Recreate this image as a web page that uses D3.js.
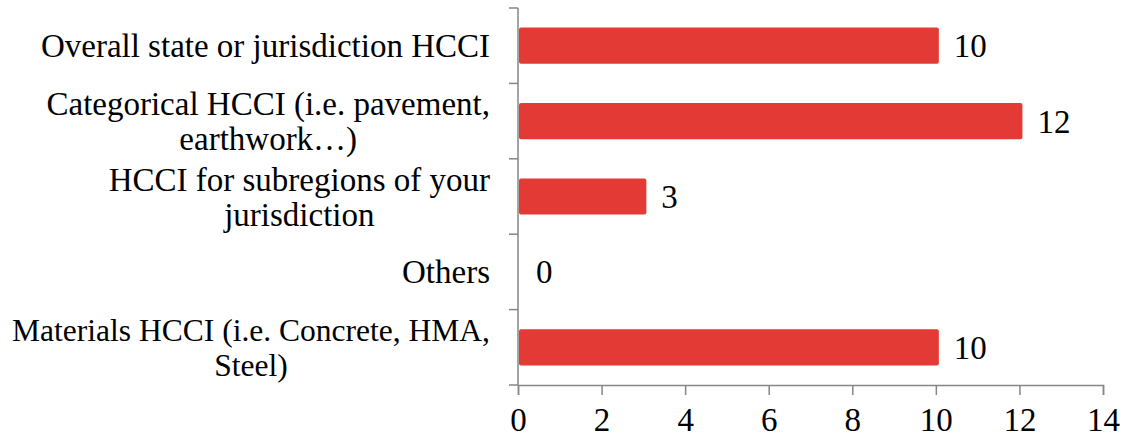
<!DOCTYPE html>
<html>
<head>
<meta charset="utf-8">
<script src="https://cdn.jsdelivr.net/npm/d3@7"></script>
<style>
  body { margin: 0; background: #fff; }
  text { font-family: "Liberation Serif", "DejaVu Serif", serif; fill: #000; }
</style>
</head>
<body>
<div id="my_dataviz"></div>
<script>
// categories top to bottom, each line of the wrapped label
var categories = [
    ["Overall state or jurisdiction HCCI"],
    ["Categorical HCCI (i.e. pavement,", "earthwork…)"],
    ["HCCI for subregions of your", "jurisdiction"],
    ["Others"],
    ["Materials HCCI (i.e. Concrete, HMA,", "Steel)"]
];
var values = [10, 12, 3, 0, 10];
var xTicks = [0, 2, 4, 6, 8, 10, 12, 14];

var width = 1127, height = 444;
var margin = {top: 8, right: 24, bottom: 59, left: 518};
var fontSize = 33;

var svg = d3.select("#my_dataviz")
    .append("svg")
    .attr("width", width)
    .attr("height", height);

var x = d3.scaleLinear()
    .domain([0, 14])
    .range([margin.left, width - margin.right]);

var y = d3.scaleBand()
    .domain(d3.range(categories.length))
    .range([margin.top, height - margin.bottom])
    .paddingInner(0.52)
    .paddingOuter(0.26);

var axisColor = "#868686";

// y axis line and category ticks (between categories)
svg.append("line")
    .attr("x1", x(0)).attr("x2", x(0))
    .attr("y1", margin.top).attr("y2", height - margin.bottom)
    .attr("stroke", axisColor).attr("stroke-width", 1.5);

var step = (height - margin.bottom - margin.top) / categories.length;
svg.selectAll("yTicks")
    .data(d3.range(categories.length + 1))
    .enter()
    .append("line")
    .attr("x1", x(0) - 9).attr("x2", x(0))
    .attr("y1", function (d) { return margin.top + d * step; })
    .attr("y2", function (d) { return margin.top + d * step; })
    .attr("stroke", axisColor).attr("stroke-width", 1.5);

// x axis
var xAxis = svg.append("g")
    .attr("transform", "translate(0," + (height - margin.bottom) + ")")
    .call(d3.axisBottom(x).tickValues(xTicks).tickSize(10).tickPadding(13).tickFormat(d3.format("d")));
xAxis.select(".domain").attr("stroke", axisColor).attr("stroke-width", 1.5);
xAxis.selectAll(".tick line").attr("stroke", axisColor).attr("stroke-width", 1.5);
xAxis.selectAll(".tick text")
    .style("font-family", '"Liberation Serif", "DejaVu Serif", serif')
    .style("font-size", fontSize + "px")
    .attr("fill", "#000");

// bars
svg.selectAll("allBars")
    .data(values)
    .enter()
    .append("rect")
    .attr("x", x(0) + 1)
    .attr("y", function (d, i) { return y(i); })
    .attr("width", function (d) { return d > 0 ? x(d) - x(0) + 2 : 0; })
    .attr("height", y.bandwidth())
    .attr("rx", 2)
    .attr("fill", "#E43A36");

// value labels
svg.selectAll("allValues")
    .data(values)
    .enter()
    .append("text")
    .attr("x", function (d) { return x(d) + 18; })
    .attr("y", function (d, i) { return y(i) + y.bandwidth() / 2; })
    .attr("dy", "0.35em")
    .style("font-size", fontSize + "px")
    .text(function (d) { return d; });

// category labels, wrapped lines centred within a right-aligned block
var labelRight = x(0) - 28;
var maxLabelW = labelRight - 12; // keep labels inside the left edge
var lineHeight = 35;
categories.forEach(function (lines, i) {
    var g = svg.append("g");
    var cy = y(i) + y.bandwidth() / 2;
    var texts = lines.map(function (line, j) {
        return g.append("text")
            .attr("y", cy + (j - (lines.length - 1) / 2) * lineHeight)
            .attr("dy", "0.35em")
            .style("font-size", fontSize + "px")
            .attr("text-anchor", "middle")
            .text(line);
    });
    var maxW = d3.max(texts, function (t) { return t.node().getComputedTextLength(); });
    if (maxW > maxLabelW) {
        var fs = fontSize * maxLabelW / maxW;
        texts.forEach(function (t) { t.style("font-size", fs + "px"); });
        maxW = maxLabelW;
    }
    texts.forEach(function (t) { t.attr("x", labelRight - maxW / 2); });
});
</script>
</body>
</html>
